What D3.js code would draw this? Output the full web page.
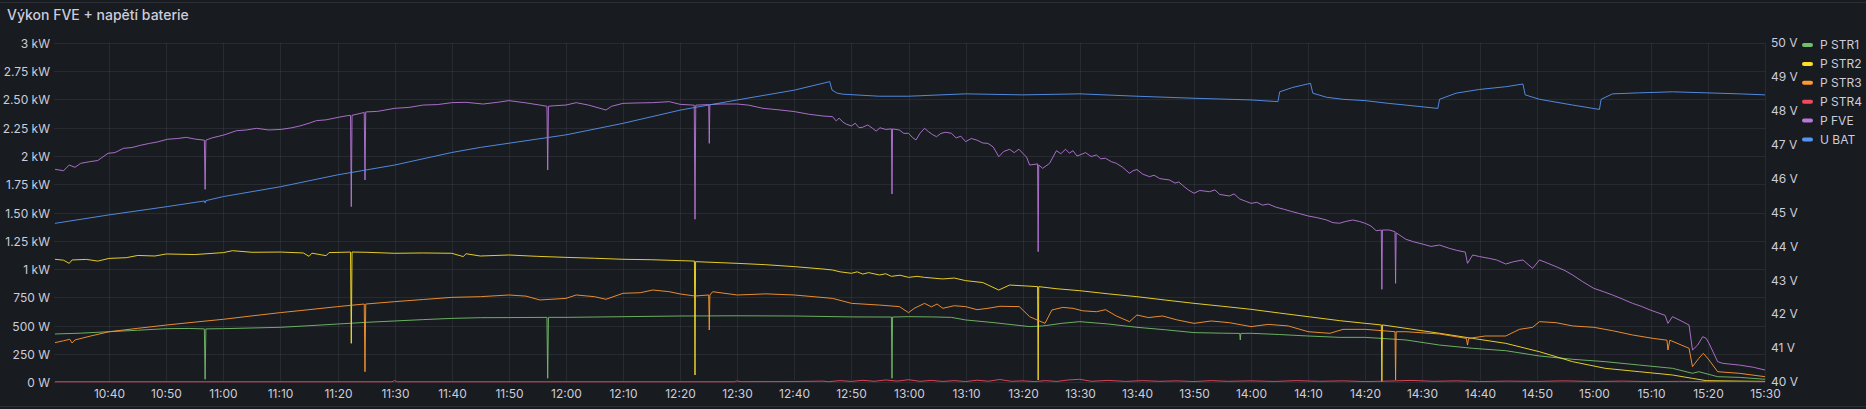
<!DOCTYPE html>
<html>
<head>
<meta charset="utf-8">
<script src="https://cdn.jsdelivr.net/npm/d3@7"></script>
<style>
html,body{margin:0;padding:0;background:#181b1f;}
svg{display:block;}
text{font-family:Inter,"Noto Sans",sans-serif;}
</style>
</head>
<body>
<svg id="chart" width="1866" height="409"></svg>
<script>
const title = "Výkon FVE + napětí baterie";
const seriesNames = ["P STR1","P STR2","P STR3","P STR4","P FVE","U BAT"];
const seriesColors = ["#73BF69","#FADE2A","#FF9830","#F2495C","#B877D9","#5794F2"];
const timeRange = ["10:30:20","15:30:00"];
const powerTicks = [0,250,500,750,1000,1250,1500,1750,2000,2250,2500,2750,3000];
const powerTickLabels = ["0 W","250 W","500 W","750 W","1 kW","1.25 kW","1.50 kW","1.75 kW","2 kW","2.25 kW","2.50 kW","2.75 kW","3 kW"];
const voltTicks = [40,41,42,43,44,45,46,47,48,49,50];
const voltTickLabels = ["40 V","41 V","42 V","43 V","44 V","45 V","46 V","47 V","48 V","49 V","50 V"];

const P_STR1 = [
["10:30:30",425],["10:35:00",432],["10:40:00",445],["10:45:00",458],["10:50:00",472],["10:54:00",474],
["10:56:40",470],["10:56:48",24],["10:56:56",470],["11:00:00",472],["11:05:00",478],["11:10:00",484],
["11:15:00",498],["11:20:00",513],["11:25:00",528],["11:30:00",540],["11:35:00",552],["11:40:00",563],
["11:45:00",569],["11:50:00",570],["11:56:40",572],["11:56:48",33],["11:56:56",572],["12:00:00",572],
["12:10:00",578],["12:20:00",584],["12:30:00",586],["12:40:00",584],["12:50:00",576],["12:57:00",575],
["12:57:06",33],["12:57:12",575],["13:00:00",578],["13:04:00",576],["13:07:30",572],["13:10:00",549],
["13:15:00",525],["13:21:12",490],["13:23:30",496],["13:27:00",520],["13:30:00",534],["13:35:00",513],
["13:40:00",484],["13:45:00",462],["13:50:00",437],["13:55:00",432],["13:58:00",430],["13:58:06",372],
["13:58:12",430],["14:00:00",431],["14:05:00",420],["14:10:00",407],["14:15:30",395],["14:20:00",395],
["14:27:06",372],["14:33:00",327],["14:38:48",298],["14:44:36",277],["14:50:30",230],["14:56:18",201],
["15:02:00",180],["15:08:00",150],["15:13:48",121],["15:17:18",77],["15:18:24",91],["15:21:42",47],
["15:25:30",41],["15:30:00",24]
];

const P_STR2 = [
["10:30:30",1086],["10:32:00",1078],["10:33:00",1050],["10:33:30",1080],["10:36:00",1085],["10:38:00",1070],
["10:40:00",1094],["10:43:00",1100],["10:45:00",1120],["10:48:00",1115],["10:50:00",1133],["10:55:00",1128],
["11:00:00",1145],["11:01:36",1162],["11:05:00",1148],["11:10:00",1150],["11:14:00",1142],["11:15:00",1112],
["11:15:30",1140],["11:18:00",1118],["11:18:30",1145],["11:22:16",1150],["11:22:24",342],["11:22:32",1150],
["11:25:00",1148],["11:30:00",1139],["11:35:00",1142],["11:40:00",1139],["11:42:00",1110],["11:42:30",1135],
["11:45:00",1115],["11:50:00",1124],["11:55:00",1112],["12:00:00",1103],["12:05:00",1095],["12:10:00",1086],
["12:15:00",1082],["12:20:00",1074],["12:22:30",1070],["12:22:36",62],["12:22:42",1065],["12:30:00",1050],
["12:35:00",1038],["12:40:00",1021],["12:45:00",1000],["12:46:42",991],["12:48:00",975],["12:50:00",962],
["12:51:00",975],["12:52:00",955],["12:53:00",968],["12:54:54",947],["12:56:00",958],["12:57:00",935],
["12:58:30",945],["13:00:00",926],["13:01:30",935],["13:02:48",926],["13:06:00",912],["13:08:00",920],
["13:10:00",897],["13:13:00",880],["13:15:48",814],["13:17:42",858],["13:22:36",844],["13:22:42",18],
["13:22:48",844],["13:26:00",825],["13:30:00",808],["13:35:00",780],["13:40:00",755],["13:45:00",725],
["13:50:00",696],["13:55:00",670],["14:00:00",643],["14:05:00",610],["14:10:00",578],["14:15:30",543],
["14:20:00",519],["14:22:48",505],["14:22:54",3],["14:23:00",505],["14:27:06",475],["14:33:00",431],
["14:38:48",386],["14:44:36",342],["14:50:30",268],["14:56:18",180],["15:02:00",121],["15:08:00",91],
["15:13:48",62],["15:17:18",32],["15:19:42",12],["15:30:00",5]
];

const P_STR3 = [
["10:30:30",348],["10:32:00",365],["10:33:06",378],["10:33:30",345],["10:34:00",372],["10:37:00",410],
["10:40:00",445],["10:45:00",475],["10:50:00",504],["10:55:00",530],["11:00:00",555],["11:05:00",585],
["11:10:00",614],["11:15:00",640],["11:20:00",667],["11:24:40",690],["11:24:48",91],["11:24:56",690],
["11:30:00",711],["11:35:00",730],["11:40:00",749],["11:45:00",755],["11:50:00",770],["11:53:00",760],
["11:55:24",726],["12:00:00",740],["12:01:48",770],["12:05:00",755],["12:07:00",732],["12:10:00",785],
["12:13:00",790],["12:15:12",814],["12:18:00",800],["12:20:00",779],["12:22:36",761],["12:25:00",770],
["12:25:06",460],["12:25:12",770],["12:25:42",799],["12:30:00",770],["12:35:00",780],["12:40:00",770],
["12:46:42",740],["12:50:00",696],["12:54:54",681],["12:58:24",667],["13:00:00",614],["13:01:00",652],
["13:02:48",696],["13:04:00",665],["13:05:00",690],["13:06:00",652],["13:08:00",675],["13:10:00",667],
["13:12:00",640],["13:13:54",652],["13:16:00",670],["13:19:24",667],["13:21:12",578],["13:23:54",519],
["13:25:06",637],["13:27:00",660],["13:28:48",652],["13:30:30",630],["13:32:54",622],["13:34:30",640],
["13:36:24",584],["13:38:42",534],["13:40:00",593],["13:42:00",570],["13:44:30",584],["13:47:00",550],
["13:50:00",519],["13:53:00",540],["13:56:12",525],["14:00:00",490],["14:03:00",510],["14:06:30",496],
["14:10:00",445],["14:13:48",431],["14:16:06",466],["14:20:00",466],["14:25:12",445],["14:25:18",18],
["14:25:24",445],["14:27:06",445],["14:33:00",425],["14:37:42",386],["14:37:54",327],["14:38:06",386],
["14:41:00",407],["14:44:36",407],["14:47:00",466],["14:49:18",484],["14:50:30",534],["14:53:24",525],
["14:56:18",496],["15:00:00",484],["15:03:18",454],["15:06:48",416],["15:10:24",386],["15:12:50",370],
["15:13:00",283],["15:13:20",370],["15:16:42",298],["15:17:18",136],["15:18:24",209],["15:19:12",254],
["15:20:12",195],["15:21:42",91],["15:25:30",77],["15:30:00",47]
];

const P_STR4 = [
["10:30:30",2],["11:29:30",2],["11:30:00",12],["11:30:30",2],["12:29:30",2],["12:30:00",10],["12:30:30",3],
["12:40:00",4],["12:45:00",8],["12:46:00",3],["12:48:00",12],["12:50:00",5],["12:52:00",15],["12:54:00",6],
["12:56:00",18],["12:58:00",8],["13:00:00",20],["13:02:00",6],["13:04:00",14],["13:06:00",5],["13:08:00",12],
["13:10:00",4],["13:12:00",16],["13:14:00",7],["13:16:00",22],["13:18:00",6],["13:20:00",10],["13:22:00",4],
["13:24:00",12],["13:26:00",5],["13:28:00",18],["13:30:00",24],["13:32:00",6],["13:35:00",14],["13:38:00",5],
["13:41:00",12],["13:44:00",6],["13:47:00",10],["13:50:00",4],["13:53:00",12],["13:56:00",6],["14:00:00",10],
["14:04:00",5],["14:08:00",12],["14:12:00",6],["14:16:00",10],["14:20:00",4],["14:24:00",8],["14:28:00",14],
["14:32:00",6],["14:36:00",10],["14:40:00",4],["14:45:00",8],["14:50:00",5],["14:55:00",10],["15:00:00",4],
["15:05:00",8],["15:10:00",3],["15:15:00",6],["15:20:00",3],["15:25:00",5],["15:30:00",3]
];

const P_FVE = [
["10:30:30",1882],["10:32:00",1870],["10:33:00",1920],["10:34:00",1900],["10:35:00",1935],["10:36:36",1950],
["10:38:00",1960],["10:39:48",2024],["10:41:00",2030],["10:42:30",2068],["10:44:00",2075],["10:45:30",2095],
["10:47:06",2112],["10:48:30",2125],["10:50:12",2148],["10:52:00",2155],["10:53:30",2165],["10:55:00",2150],
["10:56:40",2140],["10:56:48",1705],["10:56:56",2140],["10:58:00",2160],["11:00:06",2186],["11:02:18",2224],
["11:04:00",2230],["11:05:48",2245],["11:08:00",2230],["11:10:12",2236],["11:12:00",2250],["11:13:24",2266],
["11:15:00",2290],["11:16:18",2313],["11:18:00",2320],["11:20:06",2342],["11:21:30",2355],["11:22:16",2360],
["11:22:24",1552],["11:22:32",2360],["11:24:40",2385],["11:24:48",1788],["11:24:56",2390],["11:27:00",2395],
["11:30:00",2422],["11:32:30",2430],["11:35:00",2451],["11:37:30",2455],["11:40:00",2472],["11:42:30",2475],
["11:45:30",2460],["11:48:00",2475],["11:50:00",2490],["11:53:00",2470],["11:55:24",2451],["11:56:40",2440],
["11:56:48",1876],["11:56:56",2440],["11:58:00",2445],["12:00:00",2451],["12:01:48",2472],["12:04:00",2450],
["12:07:00",2407],["12:08:00",2440],["12:10:00",2466],["12:13:00",2470],["12:15:12",2472],["12:18:06",2481],
["12:20:00",2457],["12:22:28",2450],["12:22:36",1440],["12:22:44",2450],["12:25:00",2455],["12:25:06",2112],
["12:25:12",2455],["12:27:00",2460],["12:30:00",2460],["12:32:00",2450],["12:34:30",2422],["12:37:00",2410],
["12:40:00",2393],["12:42:30",2370],["12:45:00",2354],["12:46:42",2348],["12:47:20",2310],["12:47:50",2335],
["12:48:30",2300],["12:49:10",2280],["12:50:00",2266],["12:50:40",2290],["12:51:20",2250],["12:52:00",2255],
["12:52:50",2275],["12:53:42",2245],["12:54:20",2220],["12:55:00",2250],["12:56:00",2235],["12:57:00",2240],
["12:57:06",1664],["12:57:12",2240],["12:58:24",2230],["12:59:10",2200],["13:00:00",2201],["13:00:40",2165],
["13:01:18",2142],["13:02:00",2200],["13:02:48",2245],["13:03:30",2215],["13:04:10",2190],["13:04:54",2171],
["13:05:40",2200],["13:06:30",2210],["13:07:30",2201],["13:08:20",2160],["13:09:10",2175],["13:10:00",2127],
["13:11:00",2155],["13:12:00",2140],["13:13:00",2115],["13:13:54",2112],["13:14:50",2080],["13:15:48",1994],
["13:16:40",2040],["13:17:42",2059],["13:18:30",2030],["13:19:20",2060],["13:20:00",2024],["13:20:40",1990],
["13:21:12",1920],["13:22:36",1930],["13:22:42",1153],["13:22:48",1920],["13:23:30",1891],["13:24:42",1935],
["13:25:54",2047],["13:26:40",2020],["13:27:30",2060],["13:28:10",2025],["13:28:48",2047],["13:29:30",2000],
["13:30:00",2009],["13:31:00",2030],["13:32:00",1995],["13:32:54",2009],["13:33:40",1975],["13:34:30",1980],
["13:35:30",1950],["13:36:24",1935],["13:37:30",1900],["13:38:42",1847],["13:39:20",1870],["13:40:00",1880],
["13:41:00",1840],["13:42:12",1817],["13:43:00",1830],["13:44:00",1800],["13:45:42",1788],["13:46:40",1760],
["13:47:20",1770],["13:48:00",1740],["13:49:00",1700],["13:50:00",1670],["13:51:00",1695],["13:52:42",1684],
["13:53:40",1700],["13:54:30",1660],["13:56:12",1646],["13:57:00",1665],["13:58:00",1620],["13:59:00",1600],
["14:00:00",1581],["14:01:00",1590],["14:02:00",1565],["14:03:00",1575],["14:04:24",1546],["14:05:40",1530],
["14:07:00",1510],["14:08:30",1490],["14:10:00",1469],["14:11:30",1455],["14:13:12",1434],["14:14:20",1410],
["14:15:30",1405],["14:16:30",1420],["14:17:48",1434],["14:19:00",1420],["14:20:00",1404],["14:21:00",1380],
["14:21:54",1339],["14:22:48",1345],["14:22:54",820],["14:23:00",1345],["14:24:12",1345],["14:25:12",1330],
["14:25:18",873],["14:25:24",1320],["14:27:06",1263],["14:28:30",1240],["14:30:00",1221],["14:31:30",1200],
["14:33:00",1212],["14:34:42",1183],["14:36:00",1165],["14:37:30",1150],["14:37:54",1050],["14:38:48",1124],
["14:40:00",1110],["14:41:42",1094],["14:43:00",1080],["14:44:36",1044],["14:46:00",1065],["14:47:36",1080],
["14:49:18",1006],["14:50:30",1080],["14:52:00",1050],["14:53:24",1021],["14:55:00",985],["14:56:18",947],
["14:58:00",890],["15:00:00",829],["15:01:40",800],["15:03:18",770],["15:05:00",735],["15:06:48",696],
["15:08:20",670],["15:09:54",637],["15:12:30",590],["15:13:00",519],["15:13:48",578],["15:15:20",540],
["15:16:42",504],["15:17:18",283],["15:18:12",327],["15:19:06",401],["15:19:42",386],["15:20:12",342],
["15:21:42",180],["15:22:36",165],["15:25:30",150],["15:28:00",130],["15:30:00",106]
];

const U_BAT = [
["10:30:30",44.68],["10:40:00",44.93],["10:50:00",45.17],["10:56:40",45.34],["10:56:48",45.28],["10:56:56",45.35],
["11:00:00",45.47],["11:10:00",45.76],["11:20:00",46.11],["11:30:00",46.40],["11:40:00",46.77],["11:45:00",46.92],
["12:00:00",47.29],["12:10:00",47.63],["12:20:00",48.02],["12:30:00",48.32],["12:40:00",48.61],["12:46:12",48.86],
["12:46:36",48.61],["12:47:30",48.52],["12:48:30",48.49],["12:54:54",48.43],["13:00:00",48.43],["13:10:00",48.50],
["13:20:00",48.47],["13:30:00",48.50],["13:40:00",48.43],["13:50:00",48.37],["14:00:00",48.32],["14:04:42",48.27],
["14:05:00",48.56],["14:07:18",48.69],["14:10:24",48.81],["14:10:48",48.52],["14:13:12",48.40],["14:16:00",48.34],
["14:20:00",48.30],["14:24:00",48.22],["14:27:00",48.17],["14:32:42",48.07],["14:33:00",48.34],["14:35:54",48.52],
["14:40:00",48.63],["14:44:36",48.71],["14:47:36",48.79],["14:48:00",48.47],["14:50:30",48.34],["14:56:18",48.17],
["15:01:00",48.04],["15:01:18",48.34],["15:03:18",48.50],["15:08:00",48.53],["15:13:48",48.56],["15:19:42",48.53],
["15:25:30",48.50],["15:30:00",48.47]
];

const seriesData = [P_STR1, P_STR2, P_STR3, P_STR4, P_FVE, U_BAT];
const seriesAxis = ["power","power","power","power","power","volt"];

const svg = d3.select("#chart");
const W = 1866, H = 409;
const plot = {left:54, right:1765, top:43, bottom:382};
const parse = d3.timeParse("%H:%M:%S");

const x = d3.scaleTime().domain(timeRange.map(parse)).range([plot.left, plot.right]);
const yP = d3.scaleLinear().domain([0,3000]).range([plot.bottom, plot.top]);
const yV = d3.scaleLinear().domain([40,50]).range([plot.bottom, plot.top]);

svg.append("rect").attr("x",0).attr("y",0).attr("width",W).attr("height",H).attr("fill","#181b1f");
svg.append("line").attr("x1",0).attr("x2",W).attr("y1",2.5).attr("y2",2.5).attr("stroke","#2b2e34");
svg.append("line").attr("x1",0).attr("x2",W).attr("y1",406.5).attr("y2",406.5).attr("stroke","#2b2e34");

svg.append("text").attr("x",7).attr("y",20).attr("fill","#ccccdc")
  .attr("font-size",14).attr("font-weight",500).text(title);

const gridColor = "rgba(204,204,220,0.09)";
const gL = svg.append("g");
powerTicks.forEach((v,i)=>{
  const yy = Math.round(yP(v))+0.5;
  gL.append("line").attr("x1",plot.left).attr("x2",plot.right).attr("y1",yy).attr("y2",yy).attr("stroke",gridColor);
  gL.append("text").attr("x",50).attr("y",yy).attr("dy","0.35em").attr("text-anchor","end")
    .attr("fill","#ccccdc").attr("font-size",12).text(powerTickLabels[i]);
});
const xt = x.ticks(d3.timeMinute.every(10));
const fmt = d3.timeFormat("%H:%M");
xt.forEach(t=>{
  const xx = Math.round(x(t))+0.5;
  gL.append("line").attr("x1",xx).attr("x2",xx).attr("y1",plot.top).attr("y2",plot.bottom).attr("stroke",gridColor);
  gL.append("text").attr("x",xx).attr("y",394).attr("dy","0.35em").attr("text-anchor","middle")
    .attr("fill","#ccccdc").attr("font-size",12).text(fmt(t));
});
voltTicks.forEach((v,i)=>{
  svg.append("text").attr("x",1771).attr("y",yV(v)).attr("dy","0.35em").attr("text-anchor","start")
    .attr("fill","#ccccdc").attr("font-size",12).text(voltTickLabels[i]);
});

svg.append("clipPath").attr("id","clip").append("rect")
  .attr("x",plot.left).attr("y",plot.top-2).attr("width",plot.right-plot.left+1).attr("height",plot.bottom-plot.top+4);

const gLines = svg.append("g").attr("clip-path","url(#clip)");
seriesData.forEach((data,i)=>{
  const ys = seriesAxis[i]==="volt" ? yV : yP;
  const line = d3.line().x(d=>x(parse(d[0]))).y(d=>ys(d[1]));
  gLines.append("path").attr("d",line(data)).attr("fill","none")
    .attr("stroke",seriesColors[i]).attr("stroke-width",1).attr("stroke-opacity",0.9).attr("stroke-linejoin","round");
});

const lg = svg.append("g");
seriesNames.forEach((n,i)=>{
  const yy = 45 + i*18.9;
  lg.append("rect").attr("x",1802).attr("y",yy-2).attr("width",11).attr("height",4).attr("rx",2)
    .attr("fill",seriesColors[i]);
  lg.append("text").attr("x",1820).attr("y",yy).attr("dy","0.35em").attr("fill","#ccccdc")
    .attr("font-size",12).text(n);
});
</script>
</body>
</html>
